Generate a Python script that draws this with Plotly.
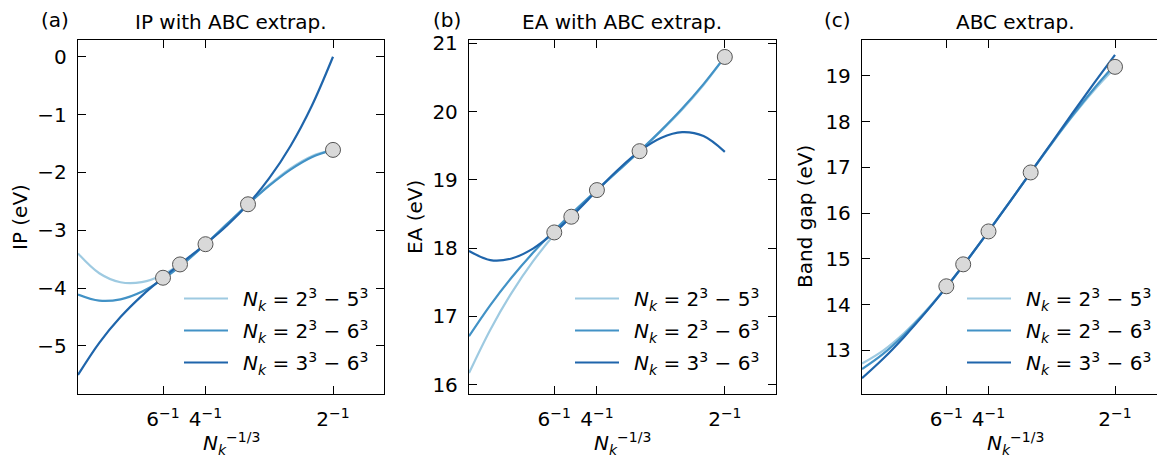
import plotly.graph_objects as go

# ---------------- data ----------------
x_points = [1/2, 1/3, 1/4, 1/5, 1/6]
ip_points = [-1.61, -2.55, -3.24, -3.59, -3.82]
ea_points = [20.80, 19.42, 18.85, 18.46, 18.23]
gap_points = [19.20, 16.89, 15.60, 14.88, 14.40]

# sample positions along the fitted curves (N_k^{-1/3})
x_fit = [0.0, 0.0417, 0.0833, 0.125, 0.1667, 0.2083, 0.25, 0.2917, 0.3333, 0.375, 0.4167, 0.4583, 0.5]

ip_fit_25 = [-3.40, -3.742, -3.898, -3.896, -3.767, -3.539, -3.24, -2.901, -2.55, -2.216, -1.929, -1.718, -1.61]
ip_fit_26 = [-4.11, -4.216, -4.193, -4.062, -3.845, -3.564, -3.24, -2.894, -2.55, -2.228, -1.950, -1.736, -1.61]
ip_fit_36 = [-5.50, -4.945, -4.500, -4.133, -3.82, -3.529, -3.238, -2.921, -2.55, -2.099, -1.542, -0.851, 0.0]

ea_fit_25 = [16.17, 16.806, 17.346, 17.805, 18.199, 18.542, 18.85, 19.138, 19.42, 19.712, 20.03, 20.388, 20.80]
ea_fit_26 = [16.71, 17.166, 17.570, 17.931, 18.258, 18.561, 18.85, 19.133, 19.42, 19.721, 20.045, 20.402, 20.80]
ea_fit_36 = [17.96, 17.825, 17.848, 17.993, 18.23, 18.524, 18.843, 19.152, 19.42, 19.613, 19.698, 19.641, 19.41]

gap_fit_25 = [12.71, 12.994, 13.379, 13.849, 14.386, 14.975, 15.60, 16.243, 16.89, 17.523, 18.127, 18.684, 19.18]
gap_fit_26 = [12.59, 12.923, 13.342, 13.832, 14.381, 14.975, 15.60, 16.243, 16.89, 17.528, 18.143, 18.721, 19.25]
gap_fit_36 = [12.39, 12.815, 13.293, 13.818, 14.382, 14.978, 15.60, 16.239, 16.89, 17.544, 18.196, 18.836, 19.46]

series_names = [
    "\u2002<i>N</i><sub><i>k</i></sub> = 2<sup>3</sup> − 5<sup>3</sup>",
    "\u2002<i>N</i><sub><i>k</i></sub> = 2<sup>3</sup> − 6<sup>3</sup>",
    "\u2002<i>N</i><sub><i>k</i></sub> = 3<sup>3</sup> − 6<sup>3</sup>",
]
series_colors = ["#9ecae1", "#4292c6", "#1f65ab"]

x_tickvals = [1/6, 1/4, 1/2]
x_ticktext = ["6<sup>−1</sup>", "4<sup>−1</sup>", "2<sup>−1</sup>"]

panel_titles = ["IP with ABC extrap.", "EA with ABC extrap.", "ABC extrap."]
panel_letters = ["(a)", "(b)", "(c)"]
y_titles = ["IP (eV)", "EA (eV)", "Band gap (eV)"]

# ---------------- layout geometry ----------------
W, H = 1157, 457
FONT = "DejaVu Sans"
FS = 20
px_left = [78, 469, 862]
px_right = [384, 776, 1157]
px_top, px_bot = 40, 394
x_ranges = [[0, 0.6], [0, 0.6], [0, (1157 - 862) / 506]]
y_ranges = [[-5.83, 0.29], [15.864, 21.048], [12.044, 19.787]]
y_dticks = [1, 1, 1]
ytitle_px = [20, 415, 805]
letter_px = [55, 447, 837]

fig = go.Figure()

panels = [
    (ip_points, [ip_fit_25, ip_fit_26, ip_fit_36]),
    (ea_points, [ea_fit_25, ea_fit_26, ea_fit_36]),
    (gap_points, [gap_fit_25, gap_fit_26, gap_fit_36]),
]

legend_names = ["legend", "legend2", "legend3"]
for i, (pts, fits) in enumerate(panels):
    xa = "x" if i == 0 else f"x{i+1}"
    ya = "y" if i == 0 else f"y{i+1}"
    for j, fit in enumerate(fits):
        fig.add_trace(go.Scatter(
            x=x_fit, y=fit, mode="lines",
            line=dict(color=series_colors[j], width=2.2, shape="spline", smoothing=1.0),
            name=series_names[j], xaxis=xa, yaxis=ya,
            legend=legend_names[i], legendgroup=f"g{i}{j}",
        ))
    fig.add_trace(go.Scatter(
        x=x_points, y=pts, mode="markers",
        marker=dict(size=15, color="#d9d9d9", line=dict(color="#555555", width=1)),
        showlegend=False, xaxis=xa, yaxis=ya,
    ))

axis_common = dict(
    showline=True, linecolor="black", linewidth=1.3,
    ticks="inside", ticklen=8, tickwidth=1.3, tickcolor="black",
    showgrid=False, zeroline=False,
    tickfont=dict(family=FONT, size=FS, color="black"),
)

layout = dict(
    width=W, height=H,
    margin=dict(l=0, r=0, t=0, b=0, autoexpand=False),
    paper_bgcolor="white", plot_bgcolor="white",
    font=dict(family=FONT, size=FS, color="black"),
    showlegend=True,
)

annotations = []
for i in range(3):
    xk = "xaxis" if i == 0 else f"xaxis{i+1}"
    yk = "yaxis" if i == 0 else f"yaxis{i+1}"
    xa_anchor = "y" if i == 0 else f"y{i+1}"
    ya_anchor = "x" if i == 0 else f"x{i+1}"
    layout[xk] = dict(
        axis_common,
        domain=[px_left[i] / W, min(px_right[i] / W, 1.0)],
        range=x_ranges[i], anchor=xa_anchor,
        tickvals=x_tickvals, ticktext=x_ticktext,
        mirror="ticks", ticklabelstandoff=7, automargin=False,
    )
    layout[yk] = dict(
        axis_common,
        domain=[1 - px_bot / H, 1 - px_top / H],
        range=y_ranges[i], anchor=ya_anchor, dtick=y_dticks[i],
        mirror=("ticks" if i < 2 else False), ticklabelstandoff=6, automargin=False,
    )
    cx = (px_left[i] + (px_left[i] + 306)) / 2
    annotations.append(dict(
        text=panel_titles[i], x=cx / W, y=1 - 36 / H, xref="paper", yref="paper",
        xanchor="center", yanchor="bottom", showarrow=False,
        font=dict(family=FONT, size=FS, color="black"),
    ))
    annotations.append(dict(
        text=panel_letters[i], x=letter_px[i] / W, y=1 - 34 / H, xref="paper", yref="paper",
        xanchor="center", yanchor="bottom", showarrow=False,
        font=dict(family=FONT, size=FS, color="black"),
    ))
    annotations.append(dict(
        text=y_titles[i], x=ytitle_px[i] / W, y=1 - 217 / H, xref="paper", yref="paper",
        xanchor="center", yanchor="middle", showarrow=False, textangle=-90,
        font=dict(family=FONT, size=FS, color="black"),
    ))
    annotations.append(dict(
        text="<i>N</i><sub><i>k</i></sub><sup>−1/3</sup>", x=cx / W, y=1 - 443 / H,
        xref="paper", yref="paper",
        xanchor="center", yanchor="middle", showarrow=False,
        font=dict(family=FONT, size=FS, color="black"),
    ))

layout["annotations"] = annotations

legend_x_px = [184, 575, 967]
for i, ln in enumerate(legend_names):
    layout[ln] = dict(
        x=(legend_x_px[i] - 5) / W, y=1 - 279 / H, xanchor="left", yanchor="top",
        xref="paper", yref="paper",
        bgcolor="rgba(255,255,255,0)", borderwidth=0,
        font=dict(family=FONT, size=FS, color="black"),
        traceorder="grouped", tracegroupgap=3, itemwidth=44,
    )

fig.update_layout(**layout)
fig.write_html("out.html", config={"displayModeBar": False},
               post_script="document.body.style.margin='0px';")
